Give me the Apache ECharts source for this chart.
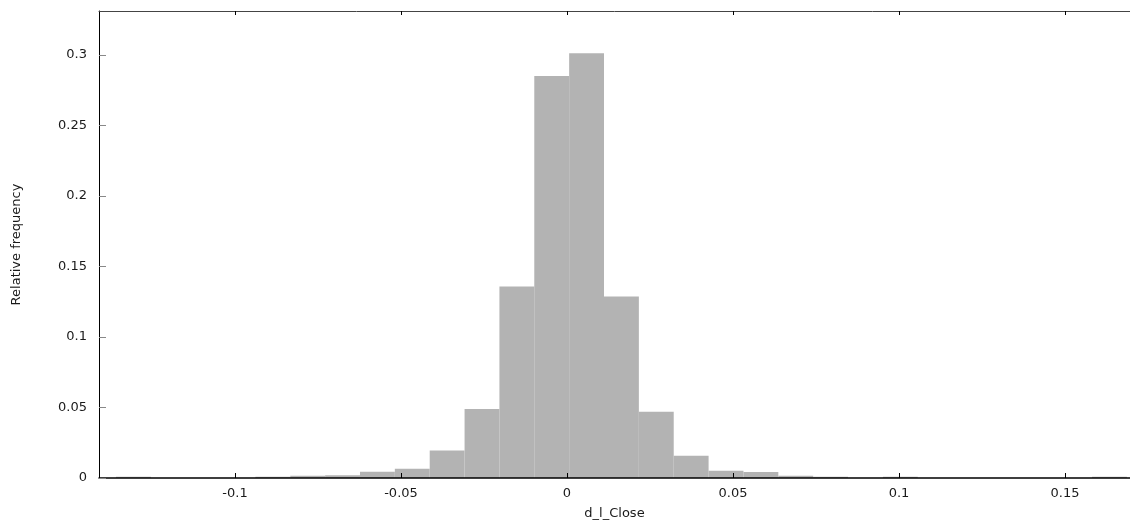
<!DOCTYPE html>
<html>
<head>
<meta charset="utf-8">
<title>d_l_Close histogram</title>
<script src="https://cdn.jsdelivr.net/npm/echarts@6/dist/echarts.min.js"></script>
<style>
  html, body { margin: 0; padding: 0; background: #fff; }
  #hist { width: 1130px; height: 525px; }
</style>
</head>
<body>
<div id="hist"></div>
<script>
// histogram of d_l_Close, bins of equal width
let binWidth = 0.0105
let binCenters = [
	-0.1306, -0.1201, -0.1096, -0.0991, -0.0886, -0.0781, -0.0676, -0.0571,
	-0.0466, -0.0361, -0.0256, -0.0151, -0.0046, 0.0059, 0.0164, 0.0269,
	0.0374, 0.0479, 0.0584, 0.0689, 0.0794, 0.0899, 0.1004, 0.1109,
	0.1214, 0.1319, 0.1424, 0.1529, 0.1634
]
let relFreq = [
	0.0009, 0, 0, 0, 0.0009, 0.0016, 0.0019, 0.0045,
	0.0066, 0.0195, 0.0489, 0.1357, 0.2850, 0.3012, 0.1286, 0.0470,
	0.0158, 0.0052, 0.0042, 0.0016, 0.0009, 0, 0.0009, 0,
	0, 0, 0, 0, 0.0009
]
let xTicks = [-0.1, -0.05, 0, 0.05, 0.1, 0.15]
let yTicks = [0, 0.05, 0.1, 0.15, 0.2, 0.25, 0.3]

let xMin = -0.14096
let xMax = 0.16958
let yMax = 0.3311

let font = 'DejaVu Sans'
let barColor = '#b3b3b3'

function makeHist(id) {
	let chart = echarts.init(document.getElementById(id))
	let bins = []
	for (let i = 0; i < binCenters.length; i++) {
		bins.push([binCenters[i] - binWidth / 2, binCenters[i] + binWidth / 2, relFreq[i]])
	}
	let option = {
		animation: false,
		grid: { left: 99, right: 0, top: 11, bottom: 45 },
		xAxis: [
			{
				type: 'value',
				min: xMin,
				max: xMax,
				z: 10,
				name: 'd_l_Close',
				nameLocation: 'middle',
				nameGap: 29,
				nameTextStyle: { fontFamily: font, fontSize: 13, color: '#1a1a1a' },
				axisLine: { show: true, onZero: false, lineStyle: { color: '#000', width: 1.5 } },
				axisTick: { show: true, inside: true, length: 5, customValues: xTicks, lineStyle: { color: '#000' } },
				axisLabel: { customValues: xTicks, margin: 9, fontFamily: font, fontSize: 13, color: '#1a1a1a' },
				splitLine: { show: false }
			},
			{
				type: 'value',
				position: 'top',
				min: xMin,
				max: xMax,
				z: 10,
				axisLine: { show: true, onZero: false, lineStyle: { color: '#444', width: 1 } },
				axisTick: { show: true, inside: true, length: 4, customValues: xTicks, lineStyle: { color: '#000' } },
				axisLabel: { show: false },
				splitLine: { show: false }
			}
		],
		yAxis: {
			type: 'value',
			min: 0,
			max: yMax,
			z: 10,
			name: 'Relative frequency',
			nameLocation: 'middle',
			nameGap: 76,
			nameRotate: 90,
			nameTextStyle: { fontFamily: font, fontSize: 13, color: '#1a1a1a' },
			axisLine: { show: true, onZero: false, lineStyle: { color: '#000', width: 1 } },
			axisTick: { show: true, inside: true, length: 7, customValues: yTicks, lineStyle: { color: '#888' } },
			axisLabel: { customValues: yTicks, margin: 12, fontFamily: font, fontSize: 13, color: '#1a1a1a' },
			splitLine: { show: false }
		},
		series: [
			{
				type: 'custom',
				z: 1,
				data: bins,
				renderItem: function (params, api) {
					let top = api.coord([api.value(0), api.value(2)])
					let bottom = api.coord([api.value(1), 0])
					return {
						type: 'rect',
						shape: { x: top[0], y: top[1], width: bottom[0] - top[0], height: bottom[1] - top[1] },
						style: { fill: barColor }
					}
				}
			}
		]
	}
	chart.setOption(option)
}

window.onload = function () {
	makeHist('hist')
}
</script>
</body>
</html>
